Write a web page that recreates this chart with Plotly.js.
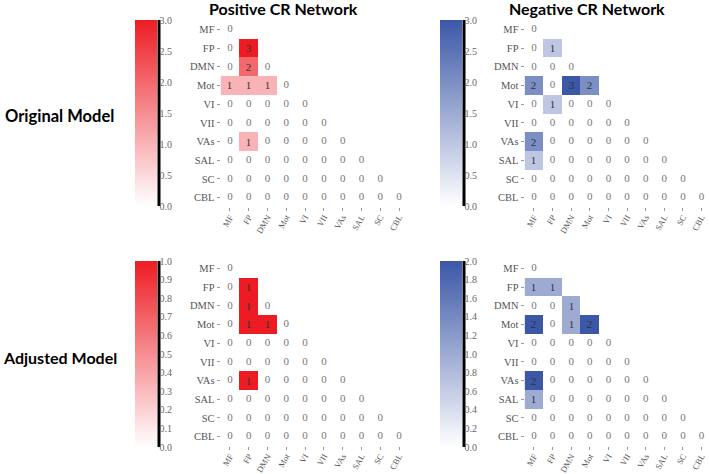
<!DOCTYPE html>
<html>
<head>
<meta charset="utf-8">
<script src="https://cdn.plot.ly/plotly-3.0.1.min.js"></script>
<style>html,body{margin:0;padding:0;background:#fff;}#chart{width:709px;height:474px;}</style>
</head>
<body>
<div id="chart"></div>
<script>
const networks = ['MF','FP','DMN','Mot','VI','VII','VAs','SAL','SC','CBL'];

// lower-triangular counts (row i has i+1 values)
const posOriginal = [
  [0],
  [0,3],
  [0,2,0],
  [1,1,1,0],
  [0,0,0,0,0],
  [0,0,0,0,0,0],
  [0,1,0,0,0,0,0],
  [0,0,0,0,0,0,0,0],
  [0,0,0,0,0,0,0,0,0],
  [0,0,0,0,0,0,0,0,0,0]
];
const negOriginal = [
  [0],
  [0,1],
  [0,0,0],
  [2,0,3,2],
  [0,1,0,0,0],
  [0,0,0,0,0,0],
  [2,0,0,0,0,0,0],
  [1,0,0,0,0,0,0,0],
  [0,0,0,0,0,0,0,0,0],
  [0,0,0,0,0,0,0,0,0,0]
];
const posAdjusted = [
  [0],
  [0,1],
  [0,1,0],
  [0,1,1,0],
  [0,0,0,0,0],
  [0,0,0,0,0,0],
  [0,1,0,0,0,0,0],
  [0,0,0,0,0,0,0,0],
  [0,0,0,0,0,0,0,0,0],
  [0,0,0,0,0,0,0,0,0,0]
];
const negAdjusted = [
  [0],
  [1,1],
  [0,0,1],
  [2,0,1,2],
  [0,0,0,0,0],
  [0,0,0,0,0,0],
  [2,0,0,0,0,0,0],
  [1,0,0,0,0,0,0,0],
  [0,0,0,0,0,0,0,0,0],
  [0,0,0,0,0,0,0,0,0,0]
];
const colTitles = ['Positive CR Network','Negative CR Network'];
const rowTitles = ['Original Model','Adjusted Model'];
const zmaxes = [3, 3, 1, 2];
const cbDticks = [0.5, 0.5, 0.1, 0.2];

const W = 709, H = 474;
const px = v => v / W;
const py = v => 1 - v / H;

const RED = [[0,'#ffffff'],[1,'#ED1C24']];
const BLUE = [[0,'#ffffff'],[1,'#3B57A7']];
const serif = 'Liberation Serif, Times New Roman, serif';

const panels = [
  {data: posOriginal, scale: RED,  ax: '',  x0: 220.6, x1: 408.4, y0: 20,  y1: 207,   cbx: 135, cby: 20},
  {data: negOriginal, scale: BLUE, ax: '2', x0: 524.6, x1: 709,   y0: 20,  y1: 207,   cbx: 440, cby: 20},
  {data: posAdjusted, scale: RED,  ax: '3', x0: 220.6, x1: 408.4, y0: 259, y1: 446,   cbx: 135, cby: 261},
  {data: negAdjusted, scale: BLUE, ax: '4', x0: 524.6, x1: 709,   y0: 259, y1: 446,   cbx: 440, cby: 261}
];

const traces = [];
const layout = {
  width: W, height: H,
  margin: {l:0, r:0, t:0, b:0},
  paper_bgcolor: '#fff', plot_bgcolor: '#fff',
  showlegend: false,
  annotations: [],
  shapes: []
};

panels.forEach((p, k) => {
  const z = networks.map((r, i) => networks.map((c, j) => j <= i ? p.data[i][j] : null));
  const txt = z.map(row => row.map(v => (v === null || v === 0) ? '' : String(v)));
  const zx = [], zy = [], zt = [];
  z.forEach((row, i) => row.forEach((v, j) => { if (v === 0) { zx.push(networks[j]); zy.push(networks[i]); zt.push('0'); } }));
  const xa = 'x' + p.ax, ya = 'y' + p.ax;
  const cbLen = 186;
  traces.push({
    type: 'heatmap', x: networks, y: networks, z: z,
    text: txt, texttemplate: '%{text}',
    textfont: {family: serif, size: 11, color: '#333'},
    colorscale: p.scale, zmin: 0, zmax: zmaxes[k],
    xaxis: xa, yaxis: ya, hoverinfo: 'skip',
    colorbar: {
      x: px(p.cbx), xanchor: 'left', xref: 'paper', xpad: 0,
      y: py(p.cby), yanchor: 'top', ypad: 0,
      len: cbLen, lenmode: 'pixels', thickness: 22, thicknessmode: 'pixels',
      outlinewidth: 0, ticks: '', tick0: 0, dtick: cbDticks[k], tickformat: '.1f',
      ticklabelstandoff: 5,
      tickfont: {family: serif, size: 10, color: '#666'}
    }
  });
  traces.push({
    type: 'scatter', mode: 'text', x: zx, y: zy, text: zt,
    textfont: {family: serif, size: 11, color: '#777'},
    xaxis: xa, yaxis: ya, hoverinfo: 'skip'
  });
  const xr = p.ax === '2' || p.ax === '4' ? [-0.5, 9.4] : [-0.5, 9.5];
  layout['xaxis' + p.ax] = {
    domain: [px(p.x0), Math.min(1, px(p.x1))], anchor: ya,
    type: 'category', categoryorder: 'array', categoryarray: networks,
    range: xr, showgrid: false, zeroline: false, showline: false,
    ticks: 'outside', ticklen: 3, tickcolor: '#999', tickwidth: 1,
    ticklabelstandoff: -2,
    tickangle: -60, tickfont: {family: serif, size: 8.5, color: '#555'},
    fixedrange: true
  };
  layout['yaxis' + p.ax] = {
    domain: [py(p.y1), py(p.y0)], anchor: xa,
    type: 'category', categoryorder: 'array', categoryarray: networks,
    range: [9.5, -0.5], showgrid: false, zeroline: false, showline: false,
    ticks: 'outside', ticklen: 3, tickcolor: '#999', tickwidth: 1,
    tickfont: {family: serif, size: 10.5, color: '#555'},
    fixedrange: true
  };
  // black line along colorbar right edge
  layout.shapes.push({
    type: 'line', xref: 'paper', yref: 'paper',
    x0: px(p.cbx + 24), x1: px(p.cbx + 24),
    y0: py(p.cby), y1: py(p.cby + cbLen),
    line: {color: '#000', width: 3}
  });
});

const titleFont = {family: 'Lato, Open Sans, sans-serif', size: 16, color: '#000'};
layout.annotations.push(
  {text: '<b>' + colTitles[0] + '</b>', xref: 'paper', yref: 'paper', x: px(283), y: py(9), xanchor: 'center', yanchor: 'middle', showarrow: false, font: titleFont},
  {text: '<b>' + colTitles[1] + '</b>', xref: 'paper', yref: 'paper', x: px(587), y: py(9), xanchor: 'center', yanchor: 'middle', showarrow: false, font: titleFont},
  {text: '<b>' + rowTitles[0] + '</b>', xref: 'paper', yref: 'paper', x: px(59), y: py(116), xanchor: 'center', yanchor: 'middle', showarrow: false, font: {family: 'Lato, Open Sans, sans-serif', size: 16.5, color: '#000'}},
  {text: '<b>' + rowTitles[1] + '</b>', xref: 'paper', yref: 'paper', x: px(60), y: py(357), xanchor: 'center', yanchor: 'middle', showarrow: false, font: {family: 'Lato, Open Sans, sans-serif', size: 16, color: '#000'}}
);

Plotly.newPlot('chart', traces, layout, {displayModeBar: false, staticPlot: true});
</script>
</body>
</html>
